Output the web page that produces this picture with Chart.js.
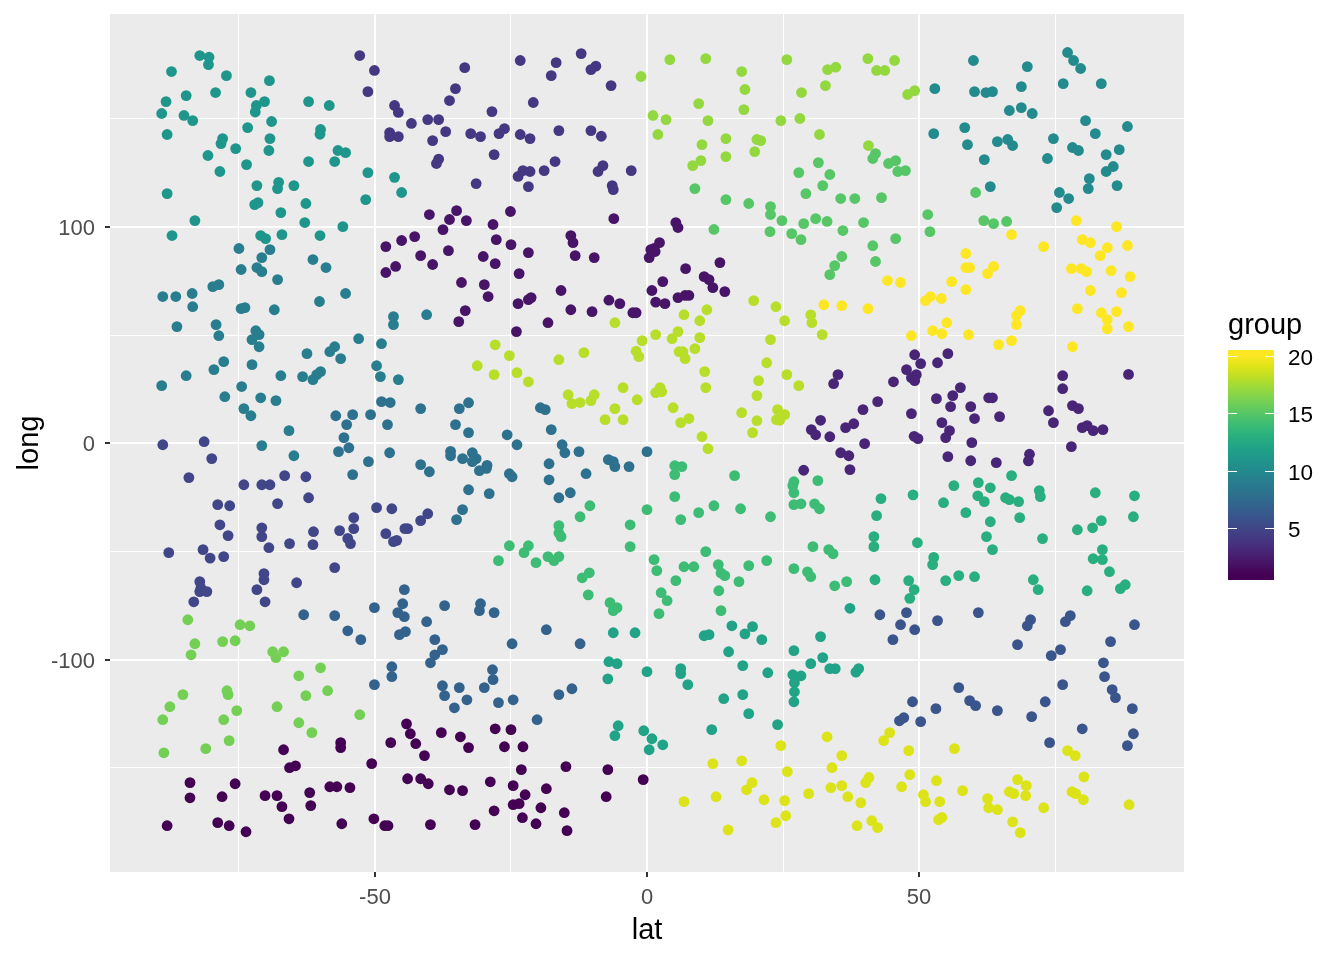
<!DOCTYPE html>
<html>
<head>
<meta charset="utf-8">
<title>lat long scatter</title>
<script src="https://cdn.jsdelivr.net/npm/chart.js@4"></script>
<style>
  body { margin: 0; background: #fff; }
  canvas { display: block; }
</style>
</head>
<body>
<canvas id="chart" width="1344" height="960"></canvas>
<script>
// [lat, long] per group
const group1 = [[-84,-156.8],[-84,-163.8],[-75.7,-157.3],[-78.1,-163.3],[-88.2,-176.7],[-78.9,-175.3],[-76.8,-176.7],[-73.7,-179.5],[-70.2,-162.8],[-68,-162.8],[-67.1,-167.9],[-65.8,-173.5],[-62,-161.4],[-61.8,-167.4],[-66.8,-141.6],[-56.3,-138.3],[-56.3,-140.6],[-65.7,-149.9],[-64.6,-149],[-50.6,-148],[-47.1,-138.3],[-44.2,-129.6],[-43.5,-134.2],[-42.5,-138.8],[-40.9,-144.3],[-37.8,-133.7],[-34.3,-135.6],[-32.8,-140.6],[-44,-155],[-41.6,-155],[-40.2,-157.3],[-36.3,-160.1],[-33.9,-160.5],[-58.3,-158.7],[-57,-158.7],[-54.6,-159.1],[-56.1,-175.8],[-50.2,-173.5],[-48.2,-176.7],[-47.6,-176.7],[-39.8,-176.2],[-27.9,-131.9],[-25,-132.3],[-26.2,-140.2],[-22.8,-140.2],[-23.1,-150.8],[-14.9,-149.4],[-7.2,-150.8],[-0.7,-155.4],[-28.8,-156.4],[-24.6,-158.2],[-18.5,-159.6],[-22.4,-162.4],[-7.5,-163.3],[-24.6,-167],[-23.5,-166.5],[-19.5,-168.4],[-28.1,-169.8],[-15.2,-170.7],[-22.9,-173],[-20.4,-175.8],[-31.6,-176.2],[-14.7,-179]];
const group2 = [[-40,105.8],[-35,107.6],[-36.3,103.5],[-33.2,103],[-37.5,98.8],[-42.7,95.6],[-45.1,93.8],[-48,91],[-36.5,89.1],[-41.6,86.8],[-39.4,82.7],[-46.2,81.8],[-48,79],[-34.1,74.4],[-33.4,61.4],[-34.6,56.3],[-25.1,107.2],[-6.1,103.9],[-28.3,101.2],[5.3,102.1],[5.7,99.8],[-14,96.1],[-13.6,92.8],[-27.7,94.2],[-25,91.9],[-21.8,88.2],[-13.2,86.8],[-9.7,85.9],[-30.1,86.4],[-27.9,83.1],[-23.5,78.5],[2.3,92.8],[1.3,90.1],[1.5,88.7],[0.7,89.6],[0.4,85.9],[13.4,83.6],[7.1,80.8],[10.5,77.1],[11.4,75.7],[12.1,72],[14.3,70.2],[2.9,74.8],[0.9,70.7],[-29.9,73.4],[-29.2,67.9],[-15.8,70.7],[-21.3,67.4],[-21.8,66.5],[-23.7,64.6],[-7,66.2],[-5,64.6],[1.6,65.3],[3.3,64.6],[5.7,67.4],[7,68.4],[7.7,68.4],[-14,61.8],[-10.1,60.9],[-2.6,60.4],[-2,60.4],[-18.2,55.8],[-24,51.7]];
const group3 = [[49.2,41],[55.3,41.5],[50.3,36.9],[53.4,37.3],[47.7,34.1],[49.5,31.8],[48.6,30.4],[49.2,29],[45.3,28.5],[35.1,31.8],[34.3,27.6],[57.6,25.8],[56.2,22.1],[53.2,20.7],[55.8,17],[59.5,17],[62.8,21.1],[63.5,21.1],[48.6,13.8],[42.4,19.3],[39.7,15.6],[60.2,11.5],[64.8,12.4],[54.2,9.6],[55.6,5.9],[54.9,2.7],[38,9.1],[36.5,7.3],[33.6,3.1],[31.9,10.7],[30.2,6.4],[31,4],[28.8,-12.4],[40,-0.1],[35.6,-4.3],[37.1,-5.7],[37.3,-12.1],[49.1,3.3],[49.8,2.2],[59.7,0.4],[55.3,-6.1],[59.5,-8],[64.2,-8.9],[70.3,-5],[70.1,-8.1],[76.4,31.3],[76.4,25.3],[88.5,31.9],[73.8,15.1],[78.2,17.5],[79.3,16.1],[74.7,9.6],[80,7.3],[80.9,8.2],[82,5.9],[83.8,6.4],[78,-1.5]];
const group4 = [[-52.8,179.3],[-50.1,172.4],[-33.5,173.7],[-51.3,162.6],[-35.2,164],[-36.3,158.5],[-46.4,156.2],[-45.7,153],[-43.3,147.9],[-40.3,149.7],[-38.3,149.7],[-47.3,143.7],[-47.3,141.8],[-45.7,141.8],[-37,144.1],[-32.4,143.2],[-39.4,140],[-38.3,131.4],[-38.7,129.4],[-23.3,177],[-16.7,176],[-12.1,180.2],[-17.6,170],[-9.4,174.4],[-10.3,172.8],[-6.6,165.4],[-20.9,157.6],[-28.5,153.4],[-30.6,141.8],[-26.2,145.5],[-27.2,143.2],[-23.3,142.8],[-21.5,140.9],[-16.2,144.6],[-10.3,144.6],[-8.4,142],[-28.1,133.5],[-16.9,130.3],[-8.1,128.4],[-9,125.7],[-22.8,126.1],[-21.5,125.7],[-23.7,123.4],[-18.9,126.1],[-2.9,126.1],[-31.4,120.1],[-21.8,118.7],[-6.4,119.2],[-6.2,117.3]];
const group5 = [[-89,-0.6],[-81.4,0.8],[-80,-7],[-84.2,-15.8],[-74.1,-19.1],[-70.8,-19.1],[-69.3,-19.1],[-66.6,-14.9],[-62.7,-15.4],[-62.2,-25.1],[-67.9,-27.8],[-78.9,-28.3],[-76.7,-28.8],[-78.5,-37.6],[-77,-42.6],[-70.8,-39],[-70.8,-43.1],[-69.5,-48.2],[-65.7,-46.3],[-61.4,-46.8],[-61.3,-40.8],[-56.5,-40.3],[-53.9,-34.3],[-53.9,-39.4],[-55,-43.9],[-54.5,-46.3],[-49.7,-29.7],[-46.9,-30.2],[-48,-41.7],[-44.5,-39.4],[-44,-39.4],[-41.6,-35.7],[-40.3,-32.5],[-46.6,-45.4],[-46,-44.8],[-87.9,-50.5],[-81.6,-49.1],[-80.3,-53],[-77.8,-52.3],[-57.4,-57.4],[-70.4,-60.2],[-70.4,-63],[-82.2,-63.9],[-64.4,-64.4],[-82,-66.8],[-82.2,-68.5],[-80.9,-68.5],[-83.3,-73.2],[-71.7,-67.6],[-70.2,-73.2]];
const group6 = [[42.8,-79.2],[47.7,-78.2],[46.6,-83.8],[49.2,-86.1],[45.2,-90.7],[53.4,-81.9],[60.9,-78.2],[70.5,-81.5],[69.9,-84.3],[77.8,-79.6],[76.9,-82.4],[89.6,-83.8],[68.1,-93],[85.2,-91.6],[76,-95.3],[74.3,-98.1],[83.9,-101.4],[84.1,-107.8],[85.5,-113.8],[86.1,-117.5],[89.2,-122.6],[76.4,-111.5],[57.3,-112.9],[59.3,-118.9],[60.4,-121.2],[48.8,-119.4],[53.1,-122.6],[64.4,-123.5],[73.2,-119.4],[70.7,-126.3],[47.2,-126.8],[46.4,-128.2],[50.3,-128.6],[80,-131.9],[74,-138.3],[89.4,-134.2],[88.3,-139.7]];
const group7 = [[-44.6,-67.6],[-44.9,-74.1],[-37.2,-75],[-50.1,-75.9],[-45.8,-78.2],[-44.6,-80.1],[-63.1,-79.2],[-57.4,-79.6],[-40.5,-82.4],[-55,-86.6],[-52.6,-90.7],[-44.4,-87],[-45.5,-88.4],[-39,-90.7],[-37.6,-95.3],[-39,-97.7],[-39.8,-101.4],[-46.9,-103.2],[-46.9,-107.8],[-50.1,-111.5],[-37.6,-112],[-34.5,-112.9],[-37.2,-116.6],[-33.1,-118.5],[-35.4,-122.2],[-30.6,-74.1],[-30.8,-77.3],[-28.1,-78.2],[-18.5,-86.1],[-24.8,-92.6],[-12.3,-92.6],[-28.4,-104.6],[-28.3,-109.2],[-29.9,-112.9],[-27.3,-119.8],[-24.6,-118.5],[-16.2,-116.1],[-13.8,-113.4],[-20.2,-127.7]];
const group8 = [[-48.8,19.3],[-47.2,18.9],[-41.6,16.1],[-34.5,16.1],[-32.8,18.8],[-57.2,12.8],[-54.1,13.3],[-50.8,13.3],[-55.2,8.7],[-47.7,8.7],[-35.2,8.7],[-55.7,2.7],[-32.8,5],[-54.8,-2],[-56.7,-3.8],[-47.3,-4.3],[-36.1,-3.7],[-36.1,-5.7],[-33.9,-7],[-51.2,-8.4],[-41.6,-9.8],[-40,-13.1],[-54.1,-14.4],[-32.8,-21.4],[-33.9,-30.6],[-35,-35.2],[-19.6,16.5],[-18.7,15.6],[-17.6,6.4],[-25.7,4],[-23.9,-0.6],[-15.6,-0.6],[-15.1,-4.3],[-12.5,-3.8],[0,-3.8],[-32.1,-4.3],[-31.4,-7],[-32.1,-8.4],[-29.4,-10.1],[-29.5,-11.5],[-30.8,-12.6],[-7.1,-7.5],[-6.2,-8.4],[-5.9,-10.7],[-3.3,-10.7],[-18,-9.4],[-25.3,-14],[-24.8,-15.4],[-11.2,-14],[-18,-16.8],[-29,-23.2],[-16.2,-25.1],[-14.1,-22.8]];
const group9 = [[-75,90.1],[-69.3,89.6],[-70.8,85.9],[-61.4,85],[-59,81.3],[-74.6,80.4],[-71.7,81.3],[-70.8,79.4],[-67.9,75.7],[-78.7,73.4],[-79.8,72.5],[-89,67.9],[-86.6,67.9],[-83.6,69.3],[-55.4,69.3],[-60.2,65.6],[-83.5,63.2],[-74.6,62.3],[-73.9,62.8],[-68.5,61.8],[-86.4,54],[-79.2,54.9],[-78.7,49.8],[-71.9,52.1],[-71.3,50.3],[-72.6,48],[-71.3,44.7],[-53,48.4],[-48.8,46.1],[-57.4,44.7],[-58.3,42.4],[-62.5,41.5],[-56.3,39.2],[-77.8,37.8],[-79.6,34.1],[-72.6,36.4],[-60,33.2],[-60.7,31.8],[-61.4,29.5],[-63.3,30.9],[-67.3,31.3],[-84.7,31.3],[-49.7,35.9],[-49,30.9],[-45.7,29.5],[-89.2,26.7],[-74.5,26.3],[-77.6,21.6],[-71,21.1],[-68.2,19.8],[-74.1,16.1],[-72.8,12.8],[-65.8,5.9],[-46.6,58.6],[-46.6,54.9],[-40.5,59.5],[-70.8,-1],[-64.9,-5.7]];
const group10 = [[77.3,180.7],[78.4,177],[79.7,173.3],[60,177],[69.9,174.2],[52.9,164],[60.2,162.6],[62.3,162.2],[63.5,162.6],[68.8,164.9],[76.5,166.3],[83.5,166.3],[66.6,153.9],[68.8,155.2],[70.8,152.5],[80.6,149.2],[58.4,146],[88.3,146.5],[52.7,143.2],[82.4,143.2],[58.9,138.1],[64.4,139.5],[66.3,140.5],[67.2,137.7],[74.7,140.9],[78.2,136.8],[79.3,135.4],[86.8,135.8],[84.4,133.5],[62,131.2],[73.6,131.7],[85.7,128],[84.4,125.7],[81.3,122.4],[81.1,117.8],[86.4,119.2],[63.1,118.7],[75.8,116],[77.5,113.2],[75.3,109]];
const group11 = [[-82.2,179.3],[-80.5,178.5],[-80.6,175.1],[-87.4,171.9],[-77.3,170],[-69.4,167.7],[-84.7,160.8],[-79.3,162.2],[-72.8,162.2],[-88.4,158],[-70.3,158],[-71.8,156.2],[-72,153.2],[-89.2,152.5],[-85.1,151.6],[-83.5,149.2],[-69,148.8],[-73.4,146],[-88.2,142.8],[-78,140.9],[-78.3,138.6],[-69.3,140.9],[-75.6,136.3],[-69.5,135.4],[-80.7,133.1],[-73.6,128.9],[-78.5,125.7],[-71.7,119.2],[-67.7,120.7],[-67.9,117.8],[-64.9,119.2],[-88.2,115.5],[-71.5,111.3],[-72.1,110.4],[-62.7,110.9],[-67.3,106.7],[-83.1,103],[-62.9,102.1],[-55.9,100.2],[-87.3,96.1],[-71,96.1],[-70.1,94.7],[-67.1,96.5],[-60.1,96.1],[-62.2,158],[-58.4,156.2],[-60,145.1],[-60.1,142.9],[-56.8,135.4],[-55.4,134.4],[-62.2,130.3],[-57.4,130.3],[-51.3,125.2],[-46.4,123],[-45.1,116],[-51.7,112.7]];
const group12 = [[-6.2,-87.5],[-2.2,-87.5],[10.5,-88.9],[11.4,-88.4],[15.6,-84.3],[19.4,-84.7],[18,-88],[21.1,-90.7],[31.9,-89.3],[15,-96.3],[27,-95.8],[32.3,-99],[30.1,-101.8],[-7,-100.9],[-5.5,-101.8],[0,-105.5],[-7.2,-108.8],[6.2,-104.1],[6.2,-106.4],[7.5,-111.5],[17.6,-102.7],[22.2,-106],[26.8,-106.9],[28.3,-107.4],[27.1,-110.6],[27.1,-114.8],[27,-119.4],[17.6,-116.1],[14.1,-118],[18.7,-124.9],[24,-130],[11.9,-132.3],[-5.3,-130.5],[-5.9,-135.1],[-0.6,-132.8],[0.9,-136.5],[2.9,-139.3],[0.4,-141.6],[37.3,-76.2],[33.6,-104.1],[34.6,-104.1],[38.9,-104.1],[38.4,-105.7]];
const group13 = [[43,-25.5],[48.9,-23.8],[42.2,-33.4],[41.7,-43.1],[41.7,-47.7],[49.7,-45.9],[54.5,-27.4],[56.4,-19.5],[60.9,-18.1],[63.1,-20.5],[67,-14.9],[60.8,-24.2],[62,-26.9],[58.6,-32],[63.1,-36.2],[65.9,-25.1],[66.6,-26],[68.3,-26.9],[72.1,-21.8],[72.3,-24.6],[68.5,-34.3],[82.4,-22.8],[89.6,-24.2],[89.4,-33.9],[83.5,-35.7],[81.9,-39],[79.1,-39.9],[62.4,-43.1],[72.7,-44],[63.5,-49.1],[83.7,-49.1],[82,-53.3],[83.7,-53.7],[85,-59.3],[52.7,-52.7],[52.5,-56],[41.9,-63],[48.1,-63.4],[54.9,-63.4],[57.3,-61.1],[60.2,-61.6],[71,-63],[71.9,-67.6],[80.9,-68.1],[87.9,-65.3],[87,-67.1],[49.1,-67.6],[48.3,-71.6]];
const group14 = [[-25.3,-47.3],[-21.8,-47.3],[-22.6,-50.5],[-27.3,-54.2],[-20.4,-55.1],[-18.2,-52.3],[-17.1,-54.2],[-16.2,-52.3],[-10.6,-59.8],[-11.9,-62.1],[-10.8,-70],[-6.8,-73.6],[-5.5,-75.9],[-6.2,-77.3],[-16.2,-38],[-16.2,-41.4],[-15.8,-43.1],[-12.3,-33.9],[-10.5,-28.8],[-3.1,-37.6],[-3.1,-47.7],[0,-30.6],[5.1,-10.3],[6.4,-10.7],[5.1,-14.4],[5.1,-24.6],[16.1,-14.9],[12.3,-28.8],[9.5,-32],[6.2,-35.2],[17.2,-30.2],[22.7,-33.9],[27,-17.7],[26.8,-19.5],[27,-22.8],[31.4,-17.2],[27,-28.3],[28.3,-27.9],[30.8,-27.9],[31.7,-30.2],[30.5,-47.7],[10.8,-50],[1.3,-53.7],[1.8,-58.8],[5.3,-63.4],[6.8,-57],[8.6,-57],[13.1,-56],[13.6,-59.9],[14.3,-61.1],[16.9,-63.9],[18.7,-56.5],[22,-54.2],[27,-57.9],[29.5,-59.4],[30.1,-61.6],[2.6,-69],[3.7,-72.7],[2.2,-78.7],[13.2,-68.1],[13.6,-77.3],[33.4,-49.1],[34.2,-51],[34.5,-65.8],[36.7,-63.9]];
const group15 = [[31.5,129.8],[27.9,125.2],[32.3,119.2],[29.2,115.5],[8.8,117.8],[14.5,112.7],[18.7,110.9],[22.7,109.5],[22.7,105.8],[24.8,103],[28.8,101.6],[31,103.9],[22.6,97.9],[26.6,97],[28.3,94.2],[12.3,98.9],[42,134],[41.5,131.7],[45.7,130.7],[44.4,129.4],[47.5,126.1],[46.1,125.7],[33.6,124.3],[35.6,113.2],[38.2,113.2],[43.1,113.6],[60.4,116],[51.6,105.8],[52,97.9],[61.9,103],[63.7,101.6],[66.1,102.6],[33.1,102.6],[39.8,102.1],[36,98.4],[41.5,91.4],[45.7,94.7],[35.8,86.4],[34.5,82.2],[33.6,78],[42,84.1]];
const group16 = [[-84.4,-81.5],[-74.8,-83.8],[-73,-84.3],[-83.1,-92.6],[-83.8,-97.7],[-78,-91.6],[-75.7,-91.2],[-68.8,-96.3],[-66.8,-96.3],[-68.2,-99],[-60,-103.7],[-64,-107.4],[-58.7,-114.3],[-62.7,-116.6],[-77.2,-114.3],[-77,-116.1],[-85.3,-116.1],[-87.7,-121.7],[-89,-127.7],[-75.4,-123.5],[-77.8,-127.7],[-68,-121.7],[-64,-129.1],[-61.6,-133.7],[-52.8,-125.4],[-76.8,-137.4],[-81.1,-141.1],[-88.8,-143]];
const group17 = [[-1.1,169.6],[4.2,177.4],[10.8,177.9],[25.7,177.4],[17.4,171.9],[18,163.6],[28.4,162.2],[9.5,157.1],[17.8,154.3],[1.1,151.6],[3.5,149.7],[11.2,149.2],[24.6,149.2],[28.1,150.2],[2,142.8],[14.5,140.9],[20.2,140.5],[20.9,140],[31.7,142.8],[10.1,138.1],[19.8,134.9],[14.5,132.6],[9.9,130.7],[8.4,128.4],[40.6,177.9],[45.5,177],[34.7,173.9],[33.2,172.8],[42.2,172.4],[43.7,172.4],[32.8,165.4],[49.2,163.1],[47.9,161.3],[40.7,137.7]];
const group18 = [[-5.9,55.8],[6.8,59.5],[11,61.8],[9.7,56.7],[19.6,66],[23.7,63.2],[25.3,56.7],[30.1,59.4],[30.3,55.8],[32.2,50.3],[22.7,48],[1.6,50.3],[5.7,51.7],[4.6,48.4],[9.7,48.9],[-0.9,47.5],[-2,42.6],[-1.5,40.1],[5.9,42.4],[6.6,42.4],[7,39.2],[8.8,43.8],[-11.6,42],[-16.2,38.7],[-27.9,45.6],[-25.3,40.6],[-31.2,35.9],[-28.1,31.8],[-23.9,32.7],[-21.8,28.5],[22,37.3],[10.6,33.2],[25.7,31.8],[27.9,26.7],[20.5,29],[10.8,25.8],[20.2,22.1],[-4.4,25.8],[2.4,25.8],[1.6,23.5],[2.7,23.9],[-14.5,22.5],[-9.7,22.5],[-10.3,19.8],[-1.8,20.2],[-13.8,18.4],[-12.3,18.9],[4.8,16.5],[-5.9,16.1],[-7.7,11],[-4.4,11],[7.7,11.5],[6.2,9.6],[17.4,14.2],[24,15.6],[25.3,13.3],[23.8,11],[24.4,10.7],[20.2,10.5],[19.4,5],[10.1,3.1],[11.2,-2.4]];
const group19 = [[24.6,-139.7],[12.1,-148],[17.4,-146.7],[25.8,-151.7],[19.3,-156.8],[18.3,-160.1],[12.7,-163.3],[6.8,-165.6],[21.5,-164.7],[25.3,-165.1],[29.7,-161.9],[25.5,-172.1],[23.7,-175.3],[14.9,-178.6],[33.1,-135.6],[44.6,-133.7],[43.5,-137.4],[35.8,-144.3],[48.1,-142],[56.5,-141.1],[34,-149.9],[77.3,-142],[78.7,-144.3],[48.3,-153.1],[40.8,-154.4],[40.2,-156.8],[80.3,-154.1],[53.2,-155.9],[68.1,-155.4],[33.8,-159.1],[35.8,-158.2],[69.7,-158.2],[46.8,-158.7],[58,-160.5],[66.6,-161],[67.4,-161.9],[69.6,-162.8],[78.1,-161],[78.8,-161.9],[36.9,-163.3],[50.8,-162.4],[51.2,-165.6],[53.8,-165.6],[39.3,-166.1],[62.6,-164.2],[80.2,-164.7],[62.8,-168.4],[64.4,-169.3],[72.9,-168.4],[88.6,-167],[54.2,-172.9],[53.6,-173.9],[41.3,-174.4],[42.4,-177.6],[38.6,-176.7],[67.2,-174.9],[68.6,-179.9]];
const group20 = [[78.9,103],[86.3,100.2],[67,96.5],[72.9,91],[80,94.2],[81.5,92.8],[84.6,90.5],[88.3,91.5],[83.3,86.8],[58.6,87.8],[58.6,81.3],[59.3,81.3],[63.7,81.8],[62.6,78.5],[56,74.8],[58.6,71.1],[44.2,75.3],[46.6,74.4],[78,80.8],[79.8,80.8],[80.8,79.4],[85.3,79.9],[88.8,77.1],[81.5,70.7],[87.2,69.7],[52.1,67.9],[51.2,66],[54.1,67],[35.8,63.7],[40.6,62.3],[32.5,64.1],[68.6,61.4],[67.9,59.1],[67.9,54.9],[79.1,62.3],[83.5,60.4],[86.3,60.9],[84.6,57.2],[84.6,53],[88.5,54],[55.1,55.8],[52.5,52.1],[54.2,50.7],[48.6,49.8],[59.1,50.3],[67,47.5],[64.6,45.7],[78.2,44.7]];

const groups = [group1, group2, group3, group4, group5, group6, group7, group8, group9, group10,
  group11, group12, group13, group14, group15, group16, group17, group18, group19, group20];

// viridis, one colour per group
const groupColors = ['#440154','#481467','#482576','#453781','#404688','#39558C','#33638D','#2D718E','#287D8E','#238A8D',
  '#1F968B','#20A386','#29AF7F','#3CBC75','#56C667','#74D055','#94D840','#B8DE29','#DCE318','#FDE725'];

const xTicks = [-75, -50, -25, 0, 25, 50, 75];
const xMajor = [-50, 0, 50];
const yTicks = [-150, -100, -50, 0, 50, 100, 150];
const yMajor = [-100, 0, 100];
const legendTicks = [5, 10, 15, 20];

const fontName = '"Liberation Sans", Arial, sans-serif';

// grey panel behind the grid, ggplot style
const panelPlugin = {
  id: 'panel',
  beforeDraw(chart) {
    const a = chart.chartArea;
    chart.ctx.fillStyle = '#EBEBEB';
    chart.ctx.fillRect(a.left, a.top, a.width, a.height);
  }
};

// colourbar on the right
const colorbarPlugin = {
  id: 'colorbar',
  afterDraw(chart) {
    const ctx = chart.ctx;
    const barLeft = 1228, barW = 46, barTop = 350, barH = 230;
    const yOf = v => 355.7 + (20 - v) * 11.5;
    const grad = ctx.createLinearGradient(0, barTop, 0, barTop + barH);
    groupColors.forEach((c, i) => {
      grad.addColorStop((yOf(i + 1) - barTop) / barH, c);
    });
    ctx.save();
    ctx.fillStyle = grad;
    ctx.fillRect(barLeft, barTop, barW, barH);
    ctx.strokeStyle = '#fff';
    ctx.lineWidth = 1;
    ctx.fillStyle = '#000';
    ctx.font = '22.5px ' + fontName;
    ctx.textBaseline = 'middle';
    legendTicks.forEach(v => {
      const y = Math.round(yOf(v)) + 0.5;
      ctx.beginPath();
      ctx.moveTo(barLeft, y);
      ctx.lineTo(barLeft + 9, y);
      ctx.moveTo(barLeft + barW - 9, y);
      ctx.lineTo(barLeft + barW, y);
      ctx.stroke();
      ctx.fillText(String(v), 1288, y + 2);
    });
    ctx.font = '29px ' + fontName;
    ctx.fillText('group', 1228, 326);
    ctx.restore();
  }
};

new Chart(document.getElementById('chart'), {
  type: 'scatter',
  data: {
    datasets: groups.map((g, i) => ({
      label: String(i + 1),
      data: g.map(p => ({ x: p[0], y: p[1] })),
      backgroundColor: groupColors[i],
      borderWidth: 0,
      pointRadius: 5.4,
      pointHoverRadius: 5.4
    }))
  },
  options: {
    responsive: false,
    animation: false,
    devicePixelRatio: 1,
    layout: { autoPadding: false, padding: { top: 14, right: 160, left: 0, bottom: 0 } },
    plugins: { legend: { display: false }, tooltip: { enabled: false } },
    scales: {
      x: {
        type: 'linear',
        min: -98.7,
        max: 98.7,
        afterBuildTicks: s => { s.ticks = xTicks.map(v => ({ value: v })); },
        afterFit: s => { s.height = 88; s.paddingLeft = 0; s.paddingRight = 0; },
        border: { display: false },
        grid: {
          color: '#fff',
          lineWidth: c => xMajor.includes(c.tick.value) ? 2 : 1,
          tickColor: c => xMajor.includes(c.tick.value) ? '#333333' : 'rgba(0,0,0,0)',
          tickLength: 5,
          tickWidth: 2
        },
        ticks: {
          color: '#4D4D4D',
          font: { family: fontName, size: 22 },
          padding: 8,
          maxRotation: 0,
          autoSkip: false,
          callback: v => xMajor.includes(v) ? String(v) : ''
        },
        title: {
          display: true,
          text: 'lat',
          color: '#000',
          font: { family: fontName, size: 29 },
          padding: { top: 0, bottom: 12 }
        }
      },
      y: {
        type: 'linear',
        min: -198.1,
        max: 198.5,
        afterBuildTicks: s => { s.ticks = yTicks.map(v => ({ value: v })); },
        afterFit: s => { s.width = 110; s.paddingTop = 0; s.paddingBottom = 0; },
        border: { display: false },
        grid: {
          color: '#fff',
          lineWidth: c => yMajor.includes(c.tick.value) ? 2 : 1,
          tickColor: c => yMajor.includes(c.tick.value) ? '#333333' : 'rgba(0,0,0,0)',
          tickLength: 5,
          tickWidth: 2
        },
        ticks: {
          color: '#4D4D4D',
          font: { family: fontName, size: 22 },
          padding: 10,
          labelOffset: 2,
          autoSkip: false,
          callback: v => yMajor.includes(v) ? String(v) : ''
        },
        title: {
          display: true,
          text: 'long',
          color: '#000',
          font: { family: fontName, size: 29 },
          padding: { top: 13, bottom: 13 }
        }
      }
    }
  },
  plugins: [panelPlugin, colorbarPlugin]
});
</script>
</body>
</html>
